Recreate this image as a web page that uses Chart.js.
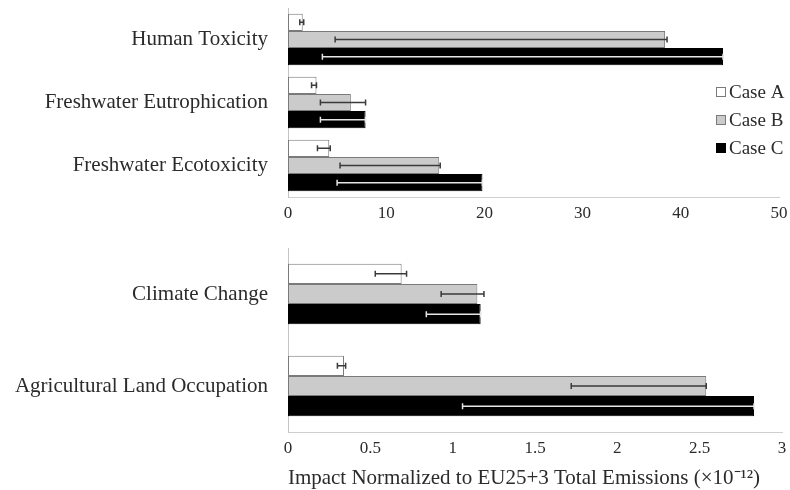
<!DOCTYPE html>
<html>
<head>
<meta charset="utf-8">
<script src="https://cdn.jsdelivr.net/npm/chart.js@4/dist/chart.umd.min.js"></script>
<style>
  html, body { margin: 0; padding: 0; background: #ffffff; }
  #wrap { position: relative; width: 790px; height: 490px; background: #ffffff; }
  #topChart { position: absolute; left: 0; top: 0; }
  #bottomChart { position: absolute; left: 0; top: 230px; }
</style>
</head>
<body>
<div id="wrap">
  <canvas id="topChart" width="790" height="230"></canvas>
  <canvas id="bottomChart" width="790" height="260"></canvas>
</div>
<script>
// Impact categories on the larger scale (upper panel)
const topCategories = ['Human Toxicity', 'Freshwater Eutrophication', 'Freshwater Ecotoxicity'];
const topCaseA = [1.5, 2.9, 4.2];
const topCaseB = [38.4, 6.4, 15.4];
const topCaseC = [44.3, 7.9, 19.8];
// Uncertainty ranges (low / high ends of each error bar)
const topLowA  = [1.2, 2.4, 3.0];
const topHighA = [1.6, 2.9, 4.3];
const topLowB  = [4.8, 3.3, 5.3];
const topHighB = [38.6, 7.9, 15.5];
const topLowC  = [3.5, 3.3, 5.0];
const topHighC = [44.3, 7.9, 19.8];
const topTicks = [0, 10, 20, 30, 40, 50];

// Impact categories on the smaller scale (lower panel)
const bottomCategories = ['Climate Change', 'Agricultural Land Occupation'];
const bottomCaseA = [0.69, 0.34];
const bottomCaseB = [1.15, 2.54];
const bottomCaseC = [1.17, 2.83];
const bottomLowA  = [0.53, 0.30];
const bottomHighA = [0.72, 0.35];
const bottomLowB  = [0.93, 1.72];
const bottomHighB = [1.19, 2.54];
const bottomLowC  = [0.84, 1.06];
const bottomHighC = [1.17, 2.83];
const bottomTicks = [0, 0.5, 1, 1.5, 2, 2.5, 3];

const seriesNames = ['Case A', 'Case B', 'Case C'];
const axisTitle = 'Impact Normalized to EU25+3 Total Emissions (×10\u207B\u00B9\u00B2)';

const FONT = '"Liberation Serif", "Times New Roman", serif';
const TEXT = '#2b2b2b';
const AXIS = '#cfcfcf';

const fills   = ['#ffffff', '#cbcbcb', '#000000'];
const borders = ['#7a7a7a', '#7a7a7a', '#000000'];
const errCols = ['#3a3a3a', '#3a3a3a', '#e6e6e6'];

function makeDatasets(values, lows, highs) {
  return values.map((vals, i) => ({
    label: seriesNames[i],
    data: vals,
    errLow: lows[i],
    errHigh: highs[i],
    errColor: errCols[i],
    backgroundColor: fills[i],
    borderColor: borders[i],
    borderWidth: 1,
    borderSkipped: false,
    barPercentage: 1.0
  }));
}

// Draws horizontal error bars with end caps for every bar
const errorBars = {
  id: 'errorBars',
  afterDatasetsDraw(chart) {
    const ctx = chart.ctx;
    const xs = chart.scales.x;
    chart.data.datasets.forEach((ds, di) => {
      const meta = chart.getDatasetMeta(di);
      meta.data.forEach((bar, j) => {
        const x1 = xs.getPixelForValue(ds.errLow[j]);
        const x2 = xs.getPixelForValue(ds.errHigh[j]);
        const y = bar.y;
        const cap = 3;
        ctx.save();
        ctx.strokeStyle = ds.errColor;
        ctx.lineWidth = 1.5;
        ctx.beginPath();
        ctx.moveTo(x1, y); ctx.lineTo(x2, y);
        ctx.moveTo(x1, y - cap); ctx.lineTo(x1, y + cap);
        ctx.moveTo(x2, y - cap); ctx.lineTo(x2, y + cap);
        ctx.stroke();
        ctx.restore();
      });
    });
  }
};

// Series key drawn at the right side of the upper panel
const sideLegend = {
  id: 'sideLegend',
  afterDraw(chart) {
    const ctx = chart.ctx;
    const x0 = 716, ys = [92, 120, 148];
    ctx.save();
    ctx.font = '19px ' + FONT;
    ctx.textBaseline = 'middle';
    ctx.textAlign = 'left';
    chart.data.datasets.forEach((ds, i) => {
      const y = ys[i];
      ctx.fillStyle = ds.backgroundColor;
      ctx.fillRect(x0, y - 5, 10, 10);
      ctx.strokeStyle = ds.borderColor;
      ctx.lineWidth = 1;
      ctx.strokeRect(x0 + 0.5, y - 4.5, 9, 9);
      ctx.fillStyle = TEXT;
      ctx.fillText(ds.label, x0 + 13, y + 1);
    });
    ctx.restore();
  }
};

// Horizontal axis title under the lower panel
const bottomTitle = {
  id: 'bottomTitle',
  afterDraw(chart) {
    const ctx = chart.ctx;
    ctx.save();
    ctx.font = '21px ' + FONT;
    ctx.fillStyle = TEXT;
    ctx.textAlign = 'center';
    ctx.textBaseline = 'middle';
    ctx.fillText(axisTitle, 524, 248);
    ctx.restore();
  }
};

function baseOptions(maxX, tickList, xHeight) {
  return {
    indexAxis: 'y',
    responsive: false,
    animation: false,
    events: [],
    plugins: { legend: { display: false }, tooltip: { enabled: false } },
    scales: {
      x: {
        min: 0,
        max: maxX,
        afterBuildTicks(scale) { scale.ticks = tickList.map(v => ({ value: v })); },
        ticks: {
          color: TEXT, padding: 0, font: { family: FONT, size: 17 },
          callback: v => String(v)
        },
        grid: { display: false, drawTicks: true, tickLength: 6 },
        border: { display: true, color: AXIS, width: 1 },
        afterFit(scale) { scale.height = xHeight; }
      },
      y: {
        ticks: { color: TEXT, padding: 0, font: { family: FONT, size: 21 } },
        grid: { display: false, drawTicks: true, tickLength: 20 },
        border: { display: true, color: '#c4c4c4', width: 1 },
        afterFit(scale) {
          scale.width = 288;
          scale.paddingTop = 0;
          scale.paddingBottom = 0;
        }
      }
    }
  };
}

const topOpts = baseOptions(50, topTicks, 33);
topOpts.layout = { padding: { top: 8, right: 11, bottom: 0, left: 0 } };
topOpts.datasets = { bar: { categoryPercentage: 0.82 } };

new Chart(document.getElementById('topChart'), {
  type: 'bar',
  data: {
    labels: topCategories,
    datasets: makeDatasets(
      [topCaseA, topCaseB, topCaseC],
      [topLowA, topLowB, topLowC],
      [topHighA, topHighB, topHighC]
    )
  },
  options: topOpts,
  plugins: [errorBars, sideLegend]
});

const bottomOpts = baseOptions(3, bottomTicks, 58);
bottomOpts.layout = { padding: { top: 18, right: 8, bottom: 0, left: 0 } };
bottomOpts.datasets = { bar: { categoryPercentage: 0.66 } };

new Chart(document.getElementById('bottomChart'), {
  type: 'bar',
  data: {
    labels: bottomCategories,
    datasets: makeDatasets(
      [bottomCaseA, bottomCaseB, bottomCaseC],
      [bottomLowA, bottomLowB, bottomLowC],
      [bottomHighA, bottomHighB, bottomHighC]
    )
  },
  options: bottomOpts,
  plugins: [errorBars, bottomTitle]
});
</script>
</body>
</html>
